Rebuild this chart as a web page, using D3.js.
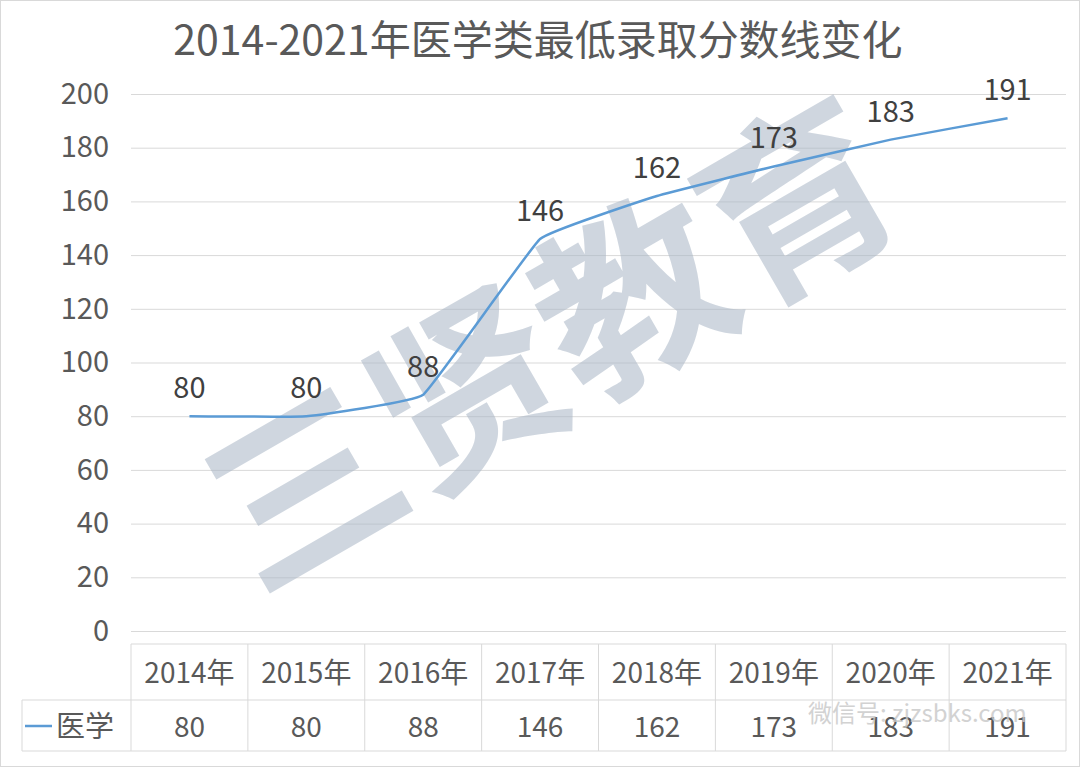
<!DOCTYPE html>
<html><head><meta charset="utf-8">
<script src="https://cdn.jsdelivr.net/npm/d3@7"></script>
<style>body{margin:0;background:#fff}svg{display:block}</style>
</head><body><svg id="c" width="1080" height="767"></svg>
<script>
const categories=["2014年","2015年","2016年","2017年","2018年","2019年","2020年","2021年"];
const values=[80,80,88,146,162,173,183,191];
const seriesName="医学";
const yTicks=[0,20,40,60,80,100,120,140,160,180,200];
const title="2014-2021年医学类最低录取分数线变化";

const svg=d3.select("#c");
const F='"Noto Sans CJK SC","Noto Sans",sans-serif';
svg.append("rect").attr("x",0.5).attr("y",0.5).attr("width",1079).attr("height",766).attr("fill","#fff").attr("stroke","#d9d9d9");
const L=131,R=1066,T=94,B=631;
const x=d3.scaleBand().domain(categories).range([L,R]);
const y=d3.scaleLinear().domain([0,200]).range([B,T]);
svg.append("text").attr("x",538).attr("y",55).attr("text-anchor","middle").attr("font-size",41).attr("fill","#595959").attr("font-family",F).text(title);
const ya=svg.append("g").attr("transform",`translate(${L},0)`).call(d3.axisLeft(y).tickValues(yTicks).tickSize(-(R-L)).tickPadding(22));
ya.select(".domain").remove();
ya.selectAll("line").attr("stroke","#d9d9d9");
ya.selectAll("text").attr("font-size",29).attr("fill","#595959").attr("font-family",F);
svg.append("text").attr("transform","translate(560,360) rotate(-30)").attr("text-anchor","middle").attr("dominant-baseline","middle")
 .attr("font-size",190).attr("font-weight","bold").attr("fill","#a9b6c6").attr("opacity",0.55).attr("font-family",F).text("三贤教育");
const line=d3.line().x((d,i)=>x(categories[i])+x.bandwidth()/2).y(d=>y(d)).curve(d3.curveCardinal.tension(0.75));
svg.append("path").datum(values).attr("d",line).attr("fill","none").attr("stroke","#5b9bd5").attr("stroke-width",2.5);
svg.selectAll(".lab").data(values).enter().append("text").attr("x",(d,i)=>x(categories[i])+x.bandwidth()/2).attr("y",d=>y(d)-18)
 .attr("text-anchor","middle").attr("font-size",29).attr("fill","#404040").attr("font-family",F).text(d=>d);
const t1=644,t2=700,t3=751,tl=22;
const g=svg.append("g").attr("stroke","#d9d9d9").attr("stroke-width",1);
g.append("line").attr("x1",L).attr("x2",R).attr("y1",t1).attr("y2",t1);
g.append("line").attr("x1",tl).attr("x2",R).attr("y1",t2).attr("y2",t2);
g.append("line").attr("x1",tl).attr("x2",R).attr("y1",t3).attr("y2",t3);
g.append("line").attr("x1",tl).attr("x2",tl).attr("y1",t2).attr("y2",t3);
g.selectAll(".v").data(categories.concat(["end"])).enter().append("line")
 .attr("x1",(d,i)=>L+i*x.bandwidth()).attr("x2",(d,i)=>L+i*x.bandwidth()).attr("y1",t1).attr("y2",t3);
svg.selectAll(".cat").data(categories).enter().append("text").attr("x",d=>x(d)+x.bandwidth()/2).attr("y",683).attr("text-anchor","middle")
 .attr("font-size",28).attr("fill","#595959").attr("font-family",F).text(d=>d);
svg.selectAll(".val").data(values).enter().append("text").attr("x",(d,i)=>x(categories[i])+x.bandwidth()/2).attr("y",737).attr("text-anchor","middle")
 .attr("font-size",28).attr("fill","#595959").attr("font-family",F).text(d=>d);
svg.append("line").attr("x1",25).attr("x2",52).attr("y1",726).attr("y2",726).attr("stroke","#5b9bd5").attr("stroke-width",2.5);
svg.append("text").attr("x",56).attr("y",737).attr("font-size",29).attr("fill","#595959").attr("font-family",F).text(seriesName);
svg.append("text").attr("x",808).attr("y",722).attr("font-size",24).attr("fill","#c8c8c8").attr("opacity",0.8).attr("font-family",F).text("微信号: zjzsbks.com");
</script></body></html>
